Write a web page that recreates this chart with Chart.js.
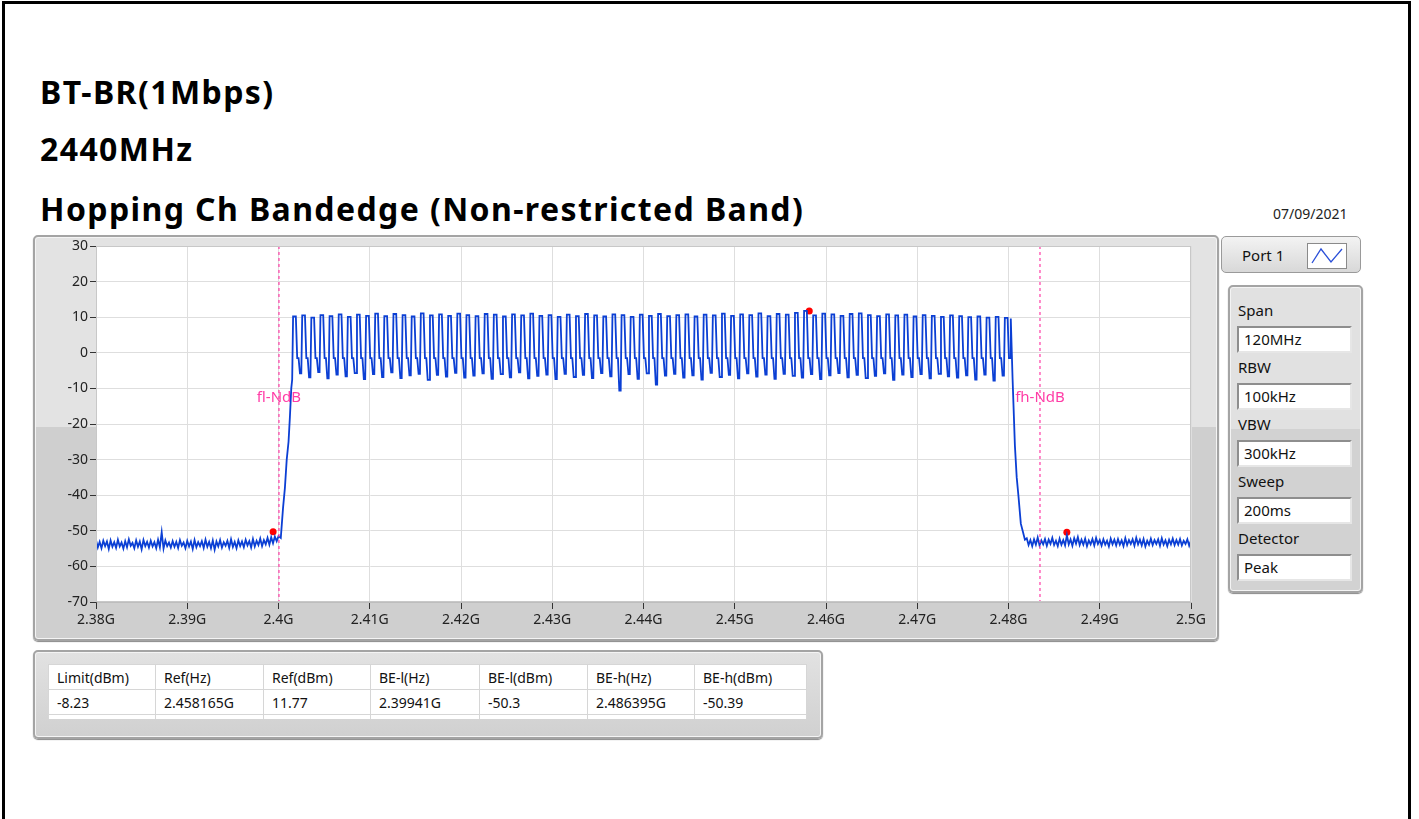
<!DOCTYPE html>
<html>
<head>
<meta charset="utf-8">
<script src="https://cdn.jsdelivr.net/npm/chart.js@4/dist/chart.umd.min.js"></script>
<style>
  body { margin: 0; width: 1419px; height: 819px; background: #fff; font-family: 'Noto Sans', sans-serif; overflow: hidden; position: relative; }
  .frame { position: absolute; left: 2px; top: 1px; width: 1403px; height: 840px; border: 3px solid #000; border-bottom: none; }
  .title { position: absolute; left: 40px; font-weight: bold; font-size: 32px; line-height: 32px; letter-spacing: 1.4px; color: #000; white-space: nowrap; }
  .date { position: absolute; left: 1273px; top: 204px; font-size: 14px; color: #222; }
  .panel { position: absolute; box-sizing: border-box; border: 2px solid #a4a4a4; border-radius: 5px;
           box-shadow: inset 0 0 0 1px #f4f4f4, 0 1px 1px #888;
           background: linear-gradient(to bottom, #e3e3e3 0, #e3e3e3 190px, #cfcfcf 190px, #cfcfcf 100%); }
  #chartPanel { left: 33px; top: 235px; width: 1186px; height: 406px; }
  #chartBox { position: absolute; left: 33px; top: 235px; width: 1185px; height: 406px; }
  .portBtn { position: absolute; left: 1221px; top: 236px; width: 140px; height: 37px; box-sizing: border-box;
             border: 1px solid #9a9a9a; border-radius: 5px; background: linear-gradient(#f3f3f3, #d8d8d8); }
  .portBtn span { position: absolute; left: 20px; top: 8px; font-size: 15px; color: #111; }
  .portBtn svg { position: absolute; left: 85px; top: 6px; }
  #setPanel { left: 1228px; top: 285px; width: 135px; height: 308px;
              background: linear-gradient(to bottom, #e1e1e1 0, #e1e1e1 142px, #d2d2d2 142px, #d2d2d2 100%); }
  .setLabel { position: absolute; left: 1238px; font-size: 15px; color: #111; }
  .setBox { position: absolute; left: 1237px; width: 115px; height: 27px; box-sizing: border-box; background: #fff;
            border: 2px solid; border-color: #8e8e8e #e6e6e6 #e6e6e6 #8e8e8e; font-size: 15px; color: #111;
            padding-left: 5px; line-height: 23px; }
  #tablePanel { left: 33px; top: 650px; width: 790px; height: 89px;
                background: linear-gradient(to bottom, #e2e2e2, #d0d0d0); }
  table { position: absolute; left: 48px; top: 664px; border-collapse: collapse; background: #fff; font-size: 14px; color: #111; }
  td { border: 1px solid #d6d6d6; height: 25px; padding: 0 0 0 8px; box-sizing: border-box; white-space: nowrap; }
  tr.stub td { height: 4px; border-bottom: none; }
</style>
</head>
<body>
<div class="frame"></div>
<div class="title" style="top:76px">BT-BR(1Mbps)</div>
<div class="title" style="top:133px">2440MHz</div>
<div class="title" style="top:193px">Hopping Ch Bandedge (Non-restricted Band)</div>
<div class="date">07/09/2021</div>

<div class="panel" id="chartPanel"></div>
<div id="chartBox"><canvas id="spectrumChart" width="1185" height="406"></canvas></div>

<div class="portBtn"><span>Port 1</span>
  <svg width="40" height="26"><rect x="0.5" y="0.5" width="39" height="25" fill="#fff" stroke="#8a8a8a"/>
    <polyline points="5,20 14,6 24,19 35,6" fill="none" stroke="#2a4fd8" stroke-width="1.3"/></svg>
</div>
<div class="panel" id="setPanel"></div>
<div id="settings"></div>

<div class="panel" id="tablePanel"></div>
<table id="resultTable"></table>

<script>
// Spectrum trace, frequencies in MHz, levels in dBm
const floorStep = 0.2;
const floorLowStart = 2380;
const floorLow = [
  -52.6, -54.7, -53.1, -54.9, -52.8, -54.3, -53.0, -55.1, -52.7, -54.5,
  -53.2, -54.8, -52.5, -54.4, -53.3, -55.0, -52.9, -54.6, -52.4, -54.2,
  -53.4, -54.9, -52.7, -54.5, -53.0, -55.2, -52.6, -54.3, -53.1, -54.7,
  -52.8, -54.4, -53.2, -54.9, -52.5, -54.6, -50.4, -55.0, -52.7, -54.3,
  -53.3, -54.7, -52.9, -54.5, -53.1, -54.8, -52.6, -54.2, -53.3, -54.9,
  -52.8, -54.4, -53.0, -55.1, -52.6, -54.6, -53.2, -54.3, -52.9, -54.8,
  -52.5, -54.5, -53.1, -54.9, -52.7, -55.3, -53.0, -54.4, -52.6, -54.7,
  -53.2, -54.2, -52.8, -54.8, -52.4, -54.5, -53.1, -54.9, -52.7, -54.3,
  -53.0, -54.6, -52.5, -54.1, -52.9, -54.7, -52.3, -54.4, -52.8, -54.0,
  -52.2, -54.3, -52.6, -53.8, -52.0, -53.9, -51.8, -53.5, -51.6, -52.9,
  -51.5
];
const riseEdge = [[2400.25, -52.0], [2400.5, -43.5], [2400.7, -38.0], [2400.9, -30.0],
                  [2401.1, -25.0], [2401.25, -18.0], [2401.4, -10.0]];

// 79 hopping channels, 2402..2480 MHz
const firstChannel = 2402;
const hopPeaks = [
  10.2, 10.5, 9.9, 10.6, 10.3, 10.8, 10.1, 10.7, 10.4, 11.0,
  10.3, 10.9, 10.6, 10.2, 11.1, 10.5, 10.8, 10.4, 11.0, 10.6,
  10.3, 10.9, 10.7, 10.2, 10.8, 10.5, 11.0, 10.4, 10.6, 10.1,
  10.7, 10.3, 10.9, 10.5, 10.2, 10.8, 10.6, 10.1, 10.7, 10.4,
  10.9, 10.3, 10.6, 10.8, 10.2, 10.7, 10.5, 11.0, 10.4, 10.8,
  10.6, 11.1, 10.3, 10.9, 10.7, 11.2, 11.77, 10.5, 11.0, 10.8,
  10.4, 10.9, 11.1, 10.6, 10.3, 10.8, 10.5, 10.7, 10.2, 10.6,
  10.4, 10.1, 10.5, 10.3, 10.0, 10.2, 9.9, 10.1, 9.8
];
// level of the gap just below each channel
const hopDips = [
  -7.5, -5.8, -6.9, -5.4, -7.2, -6.1, -6.6, -5.7, -7.4, -6.0,
  -6.8, -5.5, -7.1, -6.3, -5.9, -7.6, -6.2, -6.7, -5.6, -7.0,
  -6.4, -5.8, -7.3, -6.0, -6.9, -5.5, -7.2, -6.5, -6.1, -7.4,
  -5.9, -6.8, -6.2, -7.1, -5.7, -6.6, -10.6, -6.0, -7.3, -5.8,
  -8.9, -6.4, -5.9, -7.0, -6.3, -7.5, -5.6, -6.8, -6.2, -7.2,
  -5.8, -6.7, -6.1, -7.3, -5.9, -6.5, -7.0, -6.0, -7.4, -6.3,
  -5.7, -6.9, -6.2, -7.1, -6.5, -5.8, -7.6, -6.1, -6.8, -6.0,
  -7.2, -5.9, -6.6, -7.0, -6.3, -7.5, -6.1, -7.8, -6.4
];
// shoulder on the falling side of each hop
const hopShelf = -1.5;
const fallEdge = [[2480.25, 9.6], [2480.45, -7.5], [2480.7, -26.0], [2480.9, -35.0],
                  [2481.1, -40.5], [2481.35, -48.0], [2481.6, -50.5], [2481.8, -52.5]];
const floorHighStart = 2482;
const floorHigh = [
  -52.1, -54.0, -52.6, -54.3, -52.4, -53.9, -51.9, -54.1, -52.7, -53.8,
  -52.3, -54.2, -52.5, -53.7, -52.0, -54.0, -52.8, -54.3, -52.2, -53.9,
  -52.6, -54.1, -51.2, -53.8, -52.4, -54.2, -52.1, -53.6, -51.8, -54.0,
  -52.5, -53.9, -52.2, -54.3, -52.7, -53.8, -52.3, -54.1, -52.0, -53.7,
  -52.6, -54.2, -52.4, -53.9, -52.8, -54.4, -52.2, -53.8, -52.5, -54.1,
  -52.3, -53.9, -52.7, -54.3, -52.1, -54.0, -52.6, -53.7, -52.4, -54.2,
  -52.0, -53.8, -52.5, -54.1, -52.3, -54.4, -52.8, -53.9, -52.2, -54.0,
  -52.6, -53.7, -52.4, -54.2, -52.1, -53.9, -52.7, -54.3, -52.5, -53.8,
  -52.2, -54.0, -52.6, -53.9, -52.3, -54.1, -52.8, -53.7, -52.4, -54.2,
  -52.7
];

// markers: BE-l, Ref, BE-h (GHz / dBm)
const markerFreqs = [2.39941, 2.458165, 2.486395];
const markerLevels = [-50.3, 11.77, -50.39];
const limitLevel = -8.23;
// N dB down lines
const ndbFreqs = [2.40005, 2.48345];
const ndbLabels = ['fl-NdB', 'fh-NdB'];
const ndbLabelLevel = -12.5;

const xTickLabels = ['2.38G', '2.39G', '2.4G', '2.41G', '2.42G', '2.43G', '2.44G',
                     '2.45G', '2.46G', '2.47G', '2.48G', '2.49G', '2.5G'];
const yTicks = [30, 20, 10, 0, -10, -20, -30, -40, -50, -60, -70];

const settingNames = ['Span', 'RBW', 'VBW', 'Sweep', 'Detector'];
const settingValues = ['120MHz', '100kHz', '300kHz', '200ms', 'Peak'];
const tableHeaders = ['Limit(dBm)', 'Ref(Hz)', 'Ref(dBm)', 'BE-l(Hz)', 'BE-l(dBm)', 'BE-h(Hz)', 'BE-h(dBm)'];
const columnWidths = [107, 108, 107, 109, 108, 107, 112];

// build trace points
const trace = [];
const add = (mhz, v) => trace.push({ x: mhz / 1000, y: v });
floorLow.forEach((v, i) => add(floorLowStart + i * floorStep, v));
riseEdge.forEach(([f, v]) => add(f, v));
hopPeaks.forEach((p, k) => {
    const c = firstChannel + k;
    const nextDip = k + 1 < hopDips.length ? hopDips[k + 1] : hopDips[k];
    add(c - 0.5, hopDips[k]);
    add(c - 0.4, p);
    add(c - 0.1, p);
    add(c + 0.05, hopShelf);
    add(c + 0.2, hopShelf);
    if (k + 1 < hopPeaks.length) add(c + 0.35, nextDip);
});
fallEdge.forEach(([f, v]) => add(f, v));
floorHigh.forEach((v, i) => add(floorHighStart + i * floorStep, v));

const yMin = yTicks[yTicks.length - 1];
const yMax = yTicks[0];

const ndbSets = ndbFreqs.map(f => ({
    data: [{ x: f, y: yMax }, { x: f, y: yMin }],
    borderColor: '#ff3ca6',
    borderWidth: 1.2,
    borderDash: [3, 3],
    pointRadius: 0
}));

// white plot background + labels on the N dB lines
const plotDecor = {
    id: 'plotDecor',
    beforeDraw(chart) {
        const a = chart.chartArea;
        const ctx = chart.ctx;
        ctx.save();
        ctx.fillStyle = '#fff';
        ctx.fillRect(a.left, a.top, a.right - a.left, a.bottom - a.top);
        ctx.restore();
    },
    afterDatasetsDraw(chart) {
        const ctx = chart.ctx;
        const xs = chart.scales.x, ys = chart.scales.y;
        ctx.save();
        ctx.font = "15px 'Noto Sans', sans-serif";
        ctx.fillStyle = '#ff3ca6';
        ctx.textAlign = 'center';
        ctx.textBaseline = 'middle';
        ndbFreqs.forEach((f, i) => {
            ctx.fillText(ndbLabels[i], xs.getPixelForValue(f), ys.getPixelForValue(ndbLabelLevel));
        });
        const a = chart.chartArea;
        ctx.strokeStyle = '#c8c8c8';
        ctx.lineWidth = 1;
        ctx.strokeRect(a.left + 0.5, a.top + 0.5, a.right - a.left - 1, a.bottom - a.top - 1);
        ctx.restore();
    }
};

Chart.defaults.font.family = "'Noto Sans', sans-serif";
Chart.defaults.color = '#222';

new Chart(document.getElementById('spectrumChart'), {
    type: 'line',
    data: {
        datasets: [
            ...ndbSets,
            {
                data: trace,
                borderColor: '#0b3fd4',
                borderWidth: 1.8,
                pointRadius: 0
            },
            {
                data: markerFreqs.map((f, i) => ({ x: f, y: markerLevels[i] })),
                showLine: false,
                pointRadius: 3.5,
                pointBackgroundColor: '#ff0000',
                pointBorderWidth: 0
            }
        ]
    },
    options: {
        responsive: false,
        animation: false,
        layout: { padding: { top: 11, right: 27, left: 0, bottom: 0 } },
        plugins: { legend: { display: false }, tooltip: { enabled: false } },
        scales: {
            x: {
                type: 'linear',
                min: 2.38,
                max: 2.5,
                afterFit: s => { s.height = 39; },
                ticks: {
                    stepSize: 0.01,
                    padding: 3,
                    font: { size: 14 },
                    maxRotation: 0,
                    autoSkip: false,
                    callback: (v, i) => xTickLabels[i]
                },
                grid: { color: '#dedede', tickColor: '#333', tickLength: 7 },
                border: { color: '#bdbdbd' }
            },
            y: {
                min: yMin,
                max: yMax,
                afterFit: s => { s.width = 63; },
                ticks: { stepSize: 10, padding: 2, font: { size: 14 } },
                grid: { color: '#dedede', tickColor: '#333', tickLength: 6 },
                border: { color: '#555' }
            }
        }
    },
    plugins: [plotDecor]
});

// settings panel
const settings = document.getElementById('settings');
settingNames.forEach((name, i) => {
    const top = 300 + i * 57;
    settings.insertAdjacentHTML('beforeend',
        `<div class="setLabel" style="top:${top}px">${name}</div>` +
        `<div class="setBox" style="top:${top + 26}px">${settingValues[i]}</div>`);
});

// result table
const rowValues = [String(limitLevel), markerFreqs[1] + 'G', String(markerLevels[1]),
                   markerFreqs[0] + 'G', String(markerLevels[0]),
                   markerFreqs[2] + 'G', String(markerLevels[2])];
const cells = arr => arr.map((t, i) => `<td style="width:${columnWidths[i]}px">${t}</td>`).join('');
document.getElementById('resultTable').innerHTML =
    `<tr>${cells(tableHeaders)}</tr><tr>${cells(rowValues)}</tr>` +
    `<tr class="stub">${cells(tableHeaders.map(() => ''))}</tr>`;
</script>
</body>
</html>
